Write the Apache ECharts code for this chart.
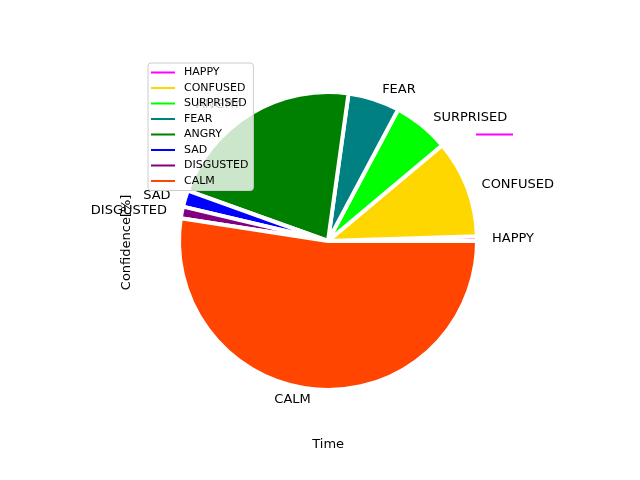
<!DOCTYPE html>
<html>
<head>
<meta charset="utf-8">
<script src="https://cdn.jsdelivr.net/npm/echarts@6/dist/echarts.min.js"></script>
<style>
  html, body { margin: 0; padding: 0; background: #fff; }
  #main { width: 640px; height: 480px; }
</style>
</head>
<body>
<div id="main"></div>
<script>
// emotions and their share, counterclockwise from east
var emotions = ['HAPPY', 'CONFUSED', 'SURPRISED', 'FEAR', 'ANGRY', 'SAD', 'DISGUSTED', 'CALM'];
var shares = [0.5, 10.6, 6.1, 5.6, 21.7, 1.8, 1.25, 52.45];
var colors = ['#ff00ff', '#ffd700', '#00ff00', '#008080', '#008000', '#0000ff', '#800080', '#ff4500'];

// stray HAPPY line drawn in the pie's data coordinates
var happyLineX = [1.0, 1.25];
var happyLineY = [0.73, 0.73];

var chartDom = document.getElementById('main');
var myChart = echarts.init(chartDom);

var pieData = emotions.map(function (name, i) {
    return { name: name, value: shares[i], itemStyle: { color: colors[i] } };
});

var option = {
    animation: false,
    textStyle: { fontFamily: 'DejaVu Sans' },
    grid: {
        left: 143.4,
        top: 57.6,
        width: 369.6,
        height: 369.6
    },
    xAxis: {
        type: 'value',
        min: -1.25,
        max: 1.25,
        name: 'Time',
        nameLocation: 'middle',
        nameGap: 11,
        nameTextStyle: { fontSize: 13, color: '#000' },
        axisLine: { show: false },
        axisTick: { show: false },
        axisLabel: { show: false },
        splitLine: { show: false }
    },
    yAxis: {
        type: 'value',
        min: -1.25,
        max: 1.25,
        name: 'Confidence[%]',
        nameLocation: 'middle',
        nameGap: 10,
        nameTextStyle: { fontSize: 13, color: '#000' },
        axisLine: { show: false },
        axisTick: { show: false },
        axisLabel: { show: false },
        splitLine: { show: false }
    },
    legend: {
        data: emotions,
        orient: 'vertical',
        left: 148,
        top: 63,
        padding: [3, 5, 3, 3],
        itemGap: 2.5,
        itemWidth: 24,
        itemHeight: 2,
        icon: 'rect',
        itemStyle: { borderWidth: 0 },
        backgroundColor: 'rgba(255,255,255,0.8)',
        borderColor: '#cccccc',
        borderWidth: 1,
        borderRadius: 3,
        selectedMode: false,
        textStyle: { fontSize: 11, color: '#000', lineHeight: 13, padding: [0, 0, 0, 4] },
        z: 10
    },
    series: [
        {
            type: 'pie',
            center: [328, 241],
            radius: 149,
            startAngle: 0,
            clockwise: false,
            avoidLabelOverlap: false,
            data: pieData,
            itemStyle: { borderColor: '#fff', borderWidth: 4 },
            label: {
                show: true,
                position: 'outside',
                fontSize: 13,
                color: '#000',
                formatter: '{b}'
            },
            labelLine: { show: false, length: 10, length2: 0 },
            emphasis: { disabled: true }
        },
        {
            type: 'line',
            data: happyLineX.map(function (x, i) { return [x, happyLineY[i]]; }),
            symbol: 'none',
            lineStyle: { color: '#ff00ff', width: 2 },
            z: 5
        }
    ]
};

myChart.setOption(option);
</script>
</body>
</html>
